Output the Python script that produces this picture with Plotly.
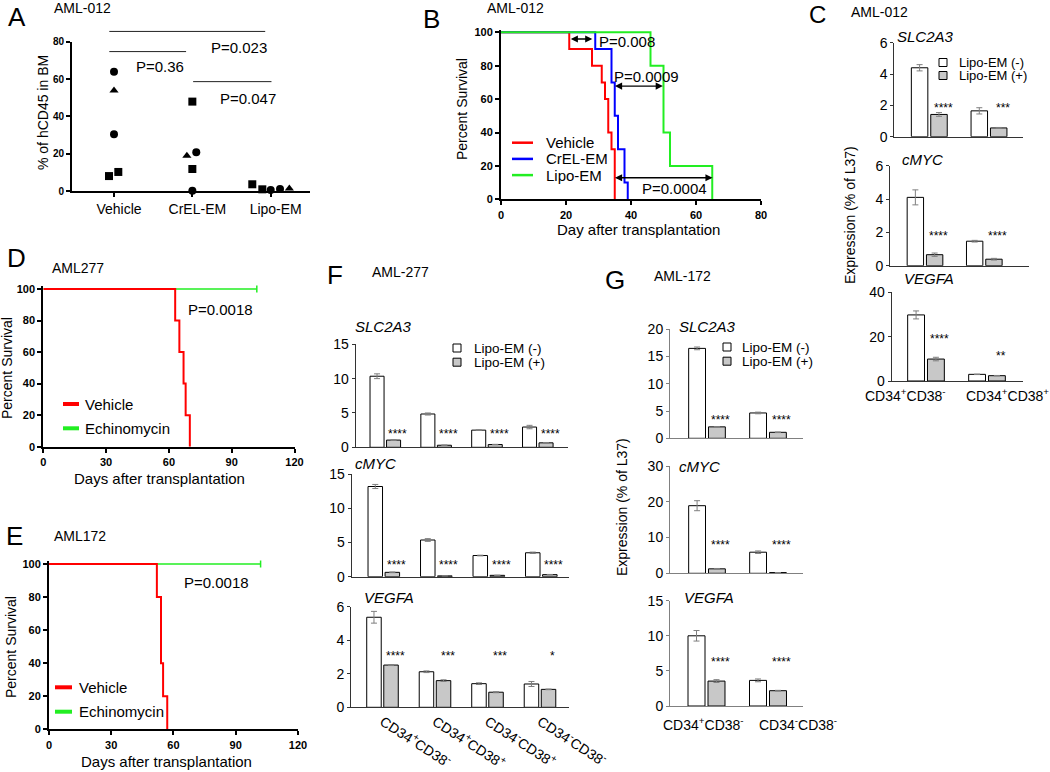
import plotly.graph_objects as go

W, H = 1050, 772
FONT = "Liberation Sans, Arial, Helvetica, sans-serif"
BLACK = "#000000"

# ====================== DATA ======================
# Panel A  (AML-012, % of hCD45 in BM)
a_groups = ["Vehicle", "CrEL-EM", "Lipo-EM"]
a_vehicle = [63.9, 53.8, 30.4, 8.0, 10.2]
a_crel = [47.9, 18.9, 20.7, 11.8, 0.2]
a_lipo = [3.6, 0.9, 0.5, 1.1, 1.4]
a_vehicle_sym = ["circle", "triangle-up", "circle", "square", "square"]
a_crel_sym = ["square", "triangle-up", "circle", "square", "circle"]
a_lipo_sym = ["square", "square", "circle", "circle", "triangle-up"]
a_vehicle_jit = [0, 0, 0, -0.064, 0.055]
a_crel_jit = [0, -0.07, 0.05, 0, 0]
a_lipo_jit = [-0.235, -0.107, 0, 0.119, 0.238]
a_yticks = [0, 20, 40, 60, 80]
a_pvalues = ["P=0.023", "P=0.36", "P=0.047"]

# Panel B  (AML-012 survival)
b_names = ["Vehicle", "CrEL-EM", "Lipo-EM"]
b_vehicle_day = [0, 21, 28, 31, 32, 33, 34, 35]
b_vehicle_surv = [100, 90, 80, 70, 60, 40, 30, 0]
b_crel_day = [0, 29, 34, 35, 36, 38, 39]
b_crel_surv = [100, 90, 70, 50, 30, 10, 0]
b_lipo_day = [0, 46, 50, 52, 65]
b_lipo_surv = [100, 80, 40, 20, 0]
b_pvalues = ["P=0.008", "P=0.0009", "P=0.0004"]
b_xticks = [0, 20, 40, 60, 80]
b_yticks = [0, 20, 40, 60, 80, 100]

# Panels D / E  (survival, Vehicle vs Echinomycin)
de_names = ["Vehicle", "Echinomycin"]
d_vehicle_day = [0, 63, 65, 67, 68, 70]
d_vehicle_surv = [100, 80, 60, 40, 20, 0]
d_echino_day = [0, 102]
d_echino_surv = [100, 100]
e_vehicle_day = [0, 52, 54, 55, 57]
e_vehicle_surv = [100, 80, 40, 20, 0]
e_echino_day = [0, 102]
e_echino_surv = [100, 100]
de_pvalue = "P=0.0018"
de_xticks = [0, 30, 60, 90, 120]
de_yticks = [0, 20, 40, 60, 80, 100]

# Bar panels
genes = ["SLC2A3", "cMYC", "VEGFA"]
treat_names = ["Lipo-EM (-)", "Lipo-EM (+)"]

c_cells = ["CD34<sup>+</sup>CD38<sup>-</sup>", "CD34<sup>+</sup>CD38<sup>+</sup>"]
c_minus = [[4.4, 1.65], [4.1, 1.47], [29.8, 3.0]]
c_minus_err = [[0.2, 0.2], [0.45, 0.05], [1.8, 0.1]]
c_plus = [[1.42, 0.56], [0.66, 0.39], [9.9, 2.4]]
c_plus_err = [[0.12, 0.03], [0.1, 0.05], [0.8, 0.1]]
c_stars = [["****", "***"], ["****", "****"], ["****", "**"]]
c_star_y = [[2.0, 2.0], [1.96, 1.96], [20.3, 12.6]]
c_yticks = [[0, 2, 4, 6], [0, 2, 4, 6], [0, 20, 40]]

f_cells = ["CD34<sup>+</sup>CD38<sup>-</sup>", "CD34<sup>+</sup>CD38<sup>+</sup>",
           "CD34<sup>-</sup>CD38<sup>+</sup>", "CD34<sup>-</sup>CD38<sup>-</sup>"]
f_minus = [[10.35, 4.85, 2.5, 2.95], [13.2, 5.37, 3.1, 3.5], [5.37, 2.12, 1.41, 1.39]]
f_minus_err = [[0.35, 0.15, 0.05, 0.25], [0.3, 0.2, 0.05, 0.1], [0.35, 0.05, 0.05, 0.15]]
f_plus = [[1.05, 0.3, 0.4, 0.65], [0.64, 0.12, 0.2, 0.3], [2.52, 1.59, 0.9, 1.07]]
f_plus_err = [[0.05, 0.03, 0.03, 0.05], [0.05, 0.02, 0.02, 0.03], [0.03, 0.05, 0.03, 0.02]]
f_stars = [["****", "****", "****", "****"], ["****", "****", "****", "****"],
           ["****", "***", "***", "*"]]
f_star_y = [2.37, 2.17, 3.24]
f_yticks = [[0, 5, 10, 15], [0, 5, 10, 15], [0, 2, 4, 6]]

g_cells = ["CD34<sup>+</sup>CD38<sup>-</sup>", "CD34<sup>-</sup>CD38<sup>-</sup>"]
g_minus = [[16.5, 4.65], [18.9, 5.9], [10.0, 3.65]]
g_minus_err = [[0.25, 0.15], [1.4, 0.35], [0.75, 0.2]]
g_plus = [[2.1, 1.1], [1.25, 0.2], [3.55, 2.18]]
g_plus_err = [[0.05, 0.05], [0.1, 0.02], [0.2, 0.05]]
g_stars = [["****", "****"], ["****", "****"], ["****", "****"]]
g_star_y = [3.9, 8.7, 6.7]
g_yticks = [[0, 5, 10, 15, 20], [0, 10, 20, 30], [0, 5, 10, 15]]

# ====================== STYLE ======================
RED, BLUE, GREEN = "#ff0000", "#0000ff", "#22ee22"
GRAYBAR = "#c8c8c8"
ERRC = "#7f7f7f"
BARGAP, BARGROUPGAP = 0.35, 0.15

fig = go.Figure()
annotations = []
shapes = []
axis_count = [0]


def lin(p0, v0, p1, v1):
    s = (p1 - p0) / (v1 - v0)
    return (lambda v: p0 + (v - v0) * s), (lambda p: v0 + (p - p0) / s)


def PX(x):
    return x / W


def PY(y):
    return 1 - y / H


def make_axes(xf, xr, yf, yr, xopts, yopts):
    axis_count[0] += 1
    n = axis_count[0]
    k = "" if n == 1 else str(n)
    xd = sorted([xf(xr[0]), xf(xr[1])])
    yd = sorted([yf(yr[0]), yf(yr[1])])
    fig.update_layout(**{
        "xaxis" + k: dict(domain=[PX(xd[0]), PX(xd[1])], range=xr, anchor="y" + k, automargin=False, **xopts),
        "yaxis" + k: dict(domain=[PY(yd[1]), PY(yd[0])], range=yr, anchor="x" + k, automargin=False, **yopts),
    })
    return "x" + k, "y" + k


def text(x, y, s, size=14, xanchor="center", yanchor="middle", italic=False, textangle=0, weight="normal"):
    annotations.append(dict(
        x=PX(x), y=PY(y), xref="paper", yref="paper", text=s, showarrow=False,
        xanchor=xanchor, yanchor=yanchor, textangle=textangle,
        font=dict(family=FONT, size=size, color=BLACK, style="italic" if italic else "normal", weight=weight)))


def hline(x0, x1, y, color=BLACK, width=1):
    shapes.append(dict(type="line", xref="paper", yref="paper", x0=PX(x0), x1=PX(x1), y0=PY(y), y1=PY(y),
                       line=dict(color=color, width=width)))


def box(x, y, fill, size=8):
    shapes.append(dict(type="rect", xref="paper", yref="paper", x0=PX(x - size / 2), x1=PX(x + size / 2),
                       y0=PY(y + size / 2), y1=PY(y - size / 2), fillcolor=fill, line=dict(color=BLACK, width=1)))


def bold_axis(tickvals, size=11, ticktext=None, tickfont=None):
    d = dict(showline=True, linecolor=BLACK, linewidth=2, ticks="outside", ticklen=4, tickwidth=2,
             tickcolor=BLACK, tickvals=tickvals, showgrid=False, zeroline=False, fixedrange=True,
             tickfont=tickfont or dict(family=FONT, size=size, color=BLACK, weight="bold"))
    if ticktext is not None:
        d["ticktext"] = ticktext
    return d


def thin_yaxis(tickvals, color):
    return dict(showline=True, linecolor=color, linewidth=1, ticks="outside", ticklen=3, tickwidth=1,
                tickcolor=color, tickvals=tickvals, showgrid=False, zeroline=False, fixedrange=True,
                tickfont=dict(family=FONT, size=14, color=BLACK))


def thin_xaxis(color, labels=None, angle=0):
    d = dict(showline=True, linecolor=color, linewidth=1, ticks="", showgrid=False, zeroline=False,
             fixedrange=True, showticklabels=labels is not None)
    if labels is not None:
        d.update(tickvals=list(range(len(labels))), ticktext=labels, tickangle=angle,
                 tickfont=dict(family=FONT, size=14, color=BLACK))
    return d


# ====================== PANEL A ======================
xf, xinv = lin(114, 0, 270.7, 2)
yf, _ = lin(191, 0, 41.7, 80)
xA, yA = make_axes(xf, [xinv(72), xinv(310)], yf, [0, 80],
                   bold_axis([0, 1, 2], ticktext=a_groups,
                             tickfont=dict(family=FONT, size=14, color=BLACK)),
                   bold_axis(a_yticks, size=10))
fig.layout.xaxis.ticklabelshift = 5
for gi, (vals, jit, sym) in enumerate(zip([a_vehicle, a_crel, a_lipo],
                                          [a_vehicle_jit, a_crel_jit, a_lipo_jit],
                                          [a_vehicle_sym, a_crel_sym, a_lipo_sym])):
    fig.add_trace(go.Scatter(x=[gi + j for j in jit], y=vals, mode="markers", xaxis=xA, yaxis=yA,
                             marker=dict(symbol=sym, size=8, color=BLACK), cliponaxis=False,
                             showlegend=False, name=a_groups[gi]))
a_brackets = [(-0.06, 1.93, 85.5), (-0.06, 0.92, 74.7), (1.01, 2.01, 58.6)]
for (b0, b1, by) in a_brackets:
    hline(xf(b0), xf(b1), yf(by), color="#222222", width=1)
for s, (tx, ty) in zip(a_pvalues, [(238.5, 47.3), (160, 66.7), (248, 98.3)]):
    text(tx, ty, s, size=15)
text(43.5, 112.5, "% of hCD45 in BM", size=14, textangle=-90)
text(17, 17, "A", size=26)
text(52, 8, "AML-012", size=14, xanchor="left")

# ====================== PANEL B ======================
xf, _ = lin(501, 0, 761, 80)
yf, _ = lin(199.3, 0, 32.3, 100)
xB, yB = make_axes(xf, [0, 80], yf, [0, 101.5], bold_axis(b_xticks), bold_axis(b_yticks))
for name, dd, ss, col in zip(b_names, [b_vehicle_day, b_crel_day, b_lipo_day],
                             [b_vehicle_surv, b_crel_surv, b_lipo_surv], [RED, BLUE, GREEN]):
    fig.add_trace(go.Scatter(x=dd, y=ss, mode="lines", line=dict(shape="hv", color=col, width=2),
                             xaxis=xB, yaxis=yB, showlegend=False, name=name))
b_arrows = [(21.0, 28.1, 96), (34.6, 49.8, 67.8), (34.6, 65.1, 12.9)]
for (a0, a1, ay) in b_arrows:
    annotations.append(dict(x=a1, y=ay, ax=a0, ay=ay, xref=xB, yref=yB, axref=xB, ayref=yB, text="",
                            showarrow=True, arrowhead=2, arrowside="end+start", arrowsize=1.1,
                            arrowwidth=1.3, arrowcolor=BLACK, standoff=0, startstandoff=0))
for s, (tx, ty) in zip(b_pvalues, [(627, 41.7), (646, 76.7), (674, 188.3)]):
    text(tx, ty, s, size=15)
for i, (name, col) in enumerate(zip(b_names, [RED, BLUE, GREEN])):
    yy = 142.7 + 16.2 * i
    hline(512, 533, yy, color=col, width=2.5)
    text(544, yy, name, size=15, xanchor="left")
text(462, 109, "Percent Survival", size=14, textangle=-90)
text(638, 230, "Day after transplantation", size=15)
text(431, 19, "B", size=26)
text(485, 8, "AML-012", size=14, xanchor="left")

# ====================== PANELS D & E ======================
for (p0x, p90x, p0y, p100y, vd, vs, ed, es, letter, code, ltr_xy, code_xy, p_xy, leg_x, leg_y,
     ytitle_xy, xtitle_xy) in [
    (43.3, 231.7, 446.7, 289, d_vehicle_day, d_vehicle_surv, d_echino_day, d_echino_surv,
     "D", "AML277", (16, 257.5), (50, 268), (220, 309), (63, 79, 83.3), (404, 428.3), (7, 368), (159.5, 478.5)),
    (49, 235.7, 729.3, 564, e_vehicle_day, e_vehicle_surv, e_echino_day, e_echino_surv,
     "E", "AML172", (14.5, 535.5), (52, 535.5), (216.5, 582), (55, 72, 76.7), (687.3, 711.7), (11, 647), (166.7, 761.7)),
]:
    xf, _ = lin(p0x, 0, p90x, 90)
    yf, _ = lin(p0y, 0, p100y, 100)
    xD, yD = make_axes(xf, [0, 120], yf, [0, 102], bold_axis(de_xticks), bold_axis(de_yticks))
    fig.add_trace(go.Scatter(x=ed, y=es, mode="lines", line=dict(shape="hv", color=GREEN, width=1.5),
                             xaxis=xD, yaxis=yD, showlegend=False, name=de_names[1]))
    fig.add_trace(go.Scatter(x=ed[-1:], y=es[-1:], mode="markers", xaxis=xD, yaxis=yD, showlegend=False,
                             marker=dict(symbol="line-ns", size=5, line=dict(color=GREEN, width=1.5)),
                             cliponaxis=False, hoverinfo="skip"))
    fig.add_trace(go.Scatter(x=vd, y=vs, mode="lines", line=dict(shape="hv", color=RED, width=2),
                             xaxis=xD, yaxis=yD, showlegend=False, name=de_names[0]))
    for name, col, yy in zip(de_names, [RED, GREEN], leg_y):
        hline(leg_x[0], leg_x[1], yy, color=col, width=4)
        text(leg_x[2], yy, name, size=15, xanchor="left")
    text(p_xy[0], p_xy[1], de_pvalue, size=15)
    text(ytitle_xy[0], ytitle_xy[1], "Percent Survival", size=14, textangle=-90)
    text(xtitle_xy[0], xtitle_xy[1], "Days after transplantation", size=15)
    text(ltr_xy[0], ltr_xy[1], letter, size=26)
    text(code_xy[0], code_xy[1], code, size=14, xanchor="left")


# ====================== BAR PANELS (C, F, G) ======================
def bar_panel(cent0, centN, ngroups, axl, axr, y0px, ytoppx, yticks, minus, minus_err, plus, plus_err,
              stars, star_y, color, xlabels=None, angle=0):
    xf, xinv = lin(cent0, 0, centN, ngroups - 1)
    yf, _ = lin(y0px, 0, ytoppx, yticks[-1])
    xa, ya = make_axes(xf, [xinv(axl), xinv(axr)], yf, [0, yticks[-1]],
                       thin_xaxis(color, xlabels, angle), thin_yaxis(yticks, color))
    xs = list(range(ngroups))
    fig.add_trace(go.Bar(x=xs, y=minus, xaxis=xa, yaxis=ya, showlegend=False, name=treat_names[0],
                         marker=dict(color="white", line=dict(color=BLACK, width=1)),
                         error_y=dict(type="data", array=minus_err, color=ERRC, thickness=1, width=3)))
    fig.add_trace(go.Bar(x=xs, y=plus, xaxis=xa, yaxis=ya, showlegend=False, name=treat_names[1],
                         marker=dict(color=GRAYBAR, line=dict(color=BLACK, width=1)),
                         error_y=dict(type="data", array=plus_err, color=ERRC, thickness=1, width=3)))
    half = (1 - BARGAP) / 4
    for i, s in enumerate(stars):
        sy = star_y[i] if isinstance(star_y, list) else star_y
        annotations.append(dict(x=i + half, y=sy, xref=xa, yref=ya, text=s, showarrow=False,
                                xshift=4, yshift=-3, font=dict(family=FONT, size=12, color=BLACK)))
    return xa, ya


# ---- C ----
c_geom = [(929.3, 989, 894.3, 1022.7, 136.7, 42.7),
          (925, 984.3, 890, 1029.3, 265.7, 165.7),
          (926, 987, 891.7, 1022.7, 381, 292.3)]
c_title_xy = [(895, 37), (900, 159), (902, 279)]
for r in range(3):
    g = c_geom[r]
    bar_panel(g[0], g[1], 2, g[2], g[3], g[4], g[5], c_yticks[r], c_minus[r], c_minus_err[r],
              c_plus[r], c_plus_err[r], c_stars[r], c_star_y[r], "#333333")
    text(c_title_xy[r][0], c_title_xy[r][1], genes[r], size=15, xanchor="left", italic=True)
for lbl, cx in zip(c_cells, [905, 1007]):
    text(cx, 395, lbl, size=14)
for i, (nm, fc) in enumerate(zip(treat_names, ["white", GRAYBAR])):
    yy = 62.5 + 13 * i
    box(943, yy, fc)
    text(956.7, yy, nm, size=13, xanchor="left")
text(850, 215, "Expression (% of L37)", size=14, textangle=-90)
text(817.5, 14.5, "C", size=24)
text(849, 12.5, "AML-012", size=14, xanchor="left")

# ---- F ----
f_geom = [(385.3, 537.8, 355.7, 567.7, 447.3, 344.3),
          (383.8, 541.3, 351.7, 569, 576.7, 474.2),
          (382.5, 540, 351, 569, 707.3, 606.7)]
f_title_xy = [(353, 327), (353, 463), (362, 597)]
for r in range(3):
    g = f_geom[r]
    bar_panel(g[0], g[1], 4, g[2], g[3], g[4], g[5], f_yticks[r], f_minus[r], f_minus_err[r],
              f_plus[r], f_plus_err[r], f_stars[r], f_star_y[r], "#333333",
              xlabels=f_cells if r == 2 else None, angle=33)
    text(f_title_xy[r][0], f_title_xy[r][1], genes[r], size=15, xanchor="left", italic=True)
for i, (nm, fc) in enumerate(zip(treat_names, ["white", GRAYBAR])):
    yy = 348 + 14.2 * i
    box(457, yy, fc)
    text(471.7, yy, nm, size=13.5, xanchor="left")
text(335, 275.5, "F", size=26)
text(370, 272, "AML-277", size=14, xanchor="left")

# ---- G ----
g_geom = [(707, 768, 670, 803, 438.3, 329.3),
          (707, 768, 670, 803, 573.3, 466),
          (706.5, 768, 670, 803, 706, 600.7)]
g_title_xy = [(677, 327), (677, 466), (682, 597)]
for r in range(3):
    g = g_geom[r]
    bar_panel(g[0], g[1], 2, g[2], g[3], g[4], g[5], g_yticks[r], g_minus[r], g_minus_err[r],
              g_plus[r], g_plus_err[r], g_stars[r], g_star_y[r], "#808080")
    text(g_title_xy[r][0], g_title_xy[r][1], genes[r], size=15, xanchor="left", italic=True)
for lbl, cx in zip(g_cells, [703, 798]):
    text(cx, 724, lbl, size=14)
for i, (nm, fc) in enumerate(zip(treat_names, ["white", GRAYBAR])):
    yy = 347 + 14.2 * i
    box(727, yy, fc)
    text(740, yy, nm, size=13.5, xanchor="left")
text(622, 507, "Expression (% of L37)", size=14, textangle=-90)
text(615, 280, "G", size=26)
text(652, 276, "AML-172", size=14, xanchor="left")

fig.update_layout(template="none", width=W, height=H, margin=dict(l=0, r=0, t=0, b=0, pad=0),
                  autosize=False, paper_bgcolor="white",
                  plot_bgcolor="white", barmode="group", bargap=BARGAP, bargroupgap=BARGROUPGAP,
                  showlegend=False, annotations=annotations, shapes=shapes, hovermode=False,
                  font=dict(family=FONT, color=BLACK))
fig.write_html("out.html", config={"displayModeBar": False, "staticPlot": True},
               post_script="document.body.style.margin='0';document.body.style.padding='0';"
                           "document.body.style.overflow='hidden';")
